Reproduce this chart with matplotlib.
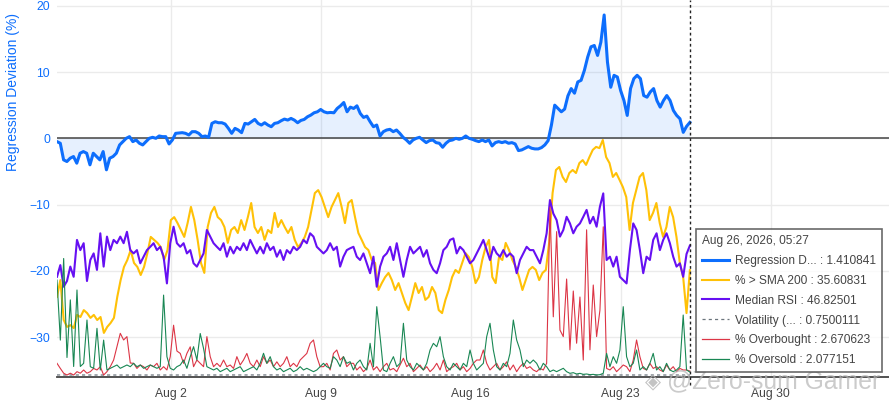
import matplotlib
matplotlib.use("Agg")
import matplotlib.pyplot as plt
import matplotlib.dates as mdates
import pandas as pd
from matplotlib.lines import Line2D

plt.rcParams['font.family'] = ['Liberation Sans', 'DejaVu Sans']

# time span of the series (first and last sample)
t_start = pd.Timestamp('2026-07-27 16:39')
t_end = pd.Timestamp('2026-08-26 05:27')

# Regression deviation (%), shown on the visible axis
reg_dev = [
    -0.5, -0.75, -3.25, -3.5, -3.0, -2.75, -3.75, -2.25, -2.0, -2.25,
    -4.0, -2.25, -2.75, -3.25, -2.0, -4.75, -3.0, -2.75, -2.25, -1.0,
    -0.5, 0.0, 0.25, -0.5, -0.25, -0.75, -1.0, -0.5, 0.0, 0.15,
    0.0, 0.35, 0.25, 0.25, -0.85, -0.25, 0.75, 0.8, 0.85, 0.75,
    0.5, 1.0, 1.0, 0.75, 0.25, 0.35, 0.15, 2.25, 2.5, 2.35,
    2.35, 2.15, 1.5, 0.75, 1.5, 1.25, 0.85, 2.25, 2.15, 2.5,
    2.85, 2.25, 2.0, 2.35, 2.0, 1.75, 2.25, 2.35, 2.65, 2.9,
    2.75, 3.0, 2.75, 2.35, 2.7,
    2.85, 3.25, 3.5, 3.85, 4.0, 4.35, 4.0, 3.85, 3.9, 3.85,
    4.5, 4.9, 5.4, 4.0, 4.7, 4.5, 4.9, 3.75, 3.15, 3.35,
    2.5, 1.75, 2.0, 0.35, 1.0, 1.25, 1.35, 1.0, 1.25, 0.75,
    0.15, -0.25, -0.75, -0.25, 0.0, 0.15, -0.25, -0.65, -0.35, -0.25,
    -0.65, -0.75, -1.35, -0.75, -0.35, -0.25, 0.0, -0.15, 0.0, 0.35,
    0.0, -0.15, -0.35, -0.5, -0.25, -0.5, -0.25, -1.15, -0.65, -0.5,
    -0.65, -0.5, -0.75, -0.65, -0.85, -1.85, -1.75, -1.5, -1.25, -1.5,
    -1.6, -1.6, -1.4, -1.0, -0.35, 2.0, 5.0, 4.5, 4.0, 4.4, 6.4,
    7.5, 6.8, 8.5, 8.75, 10.25, 12.25, 13.8, 14.0, 12.5, 14.5,
    18.6, 11.5, 7.7, 9.5, 9.25, 7.2, 5.7, 3.45, 7.5, 9.0,
    9.5, 9.0, 6.45, 6.2, 7.0, 7.5, 5.7, 4.7, 5.7, 6.45,
    5.7, 4.2, 3.45, 2.95, 0.9, 1.8, 2.4,
]

# % of stocks above SMA 200
pct_sma200 = [
    26.7, 32.3, 19.0, 16.7, 17.3, 16.3, 20.7, 20.0, 22.3, 21.3,
    19.7, 20.7, 19.0, 20.0, 14.7, 16.7, 18.0, 19.7,
    26.7, 32.3, 36.7, 39.0, 42.3, 38.0, 36.7, 34.0, 36.7, 41.3,
    46.7, 45.7, 44.7, 43.3, 39.0, 42.3, 52.3, 53.3, 51.3, 49.0,
    46.7, 51.3, 56.7, 52.3, 45.7, 38.0, 34.7, 50.0, 54.7, 56.7,
    53.3, 52.3, 50.0, 44.7, 49.0, 50.0, 48.0, 52.3, 49.0, 53.3,
    58.0, 50.0, 48.0, 50.0, 45.7, 49.0, 48.0, 54.7, 50.0, 52.3,
    50.0, 48.0, 50.0, 45.7, 43.3, 44.7, 46.7, 50.0, 55.7, 61.3,
    62.3, 60.0, 56.7, 53.3, 56.7, 59.0, 61.3, 56.7,
    51.3, 58.0, 59.0, 53.3, 48.0, 45.7, 43.3, 42.3, 39.0, 38.0,
    29.0, 31.3, 33.3, 34.7, 32.3, 29.0, 31.3, 28.0, 24.7, 22.3,
    26.7, 31.3, 28.0, 30.0, 25.7, 26.7, 30.0, 28.0, 22.3, 21.3,
    25.7, 29.0, 33.3, 35.7, 34.7, 38.0, 41.3, 40.0, 36.7, 31.3,
    33.3, 39.0, 43.3, 45.7, 33.3, 31.3, 40.0, 39.0, 44.7, 42.3,
    39.0, 36.7, 33.3, 29.0, 32.3, 35.7, 36.7,
    35.7, 32.3, 34.7, 35.7, 45.0, 61.3, 69.0, 70.0, 66.7, 65.0,
    68.0, 69.0, 68.0, 71.3, 72.3, 70.7, 73.3, 75.7, 76.7, 76.3,
    79.0, 73.3, 71.3, 66.7, 68.0, 65.7, 63.3, 60.0, 49.0, 58.0,
    62.3, 66.7, 68.0, 62.3, 52.3, 54.7, 58.0, 51.3, 46.7, 50.0,
    56.7, 53.3, 46.7, 38.0, 33.3, 21.3, 35.6,
]

# Median RSI
median_rsi = [
    36.4, 40.3, 33.1, 35.0, 39.8, 36.4, 48.7, 45.3, 47.6, 35.0,
    42.0, 44.2, 38.7, 50.9, 39.8, 49.8, 45.3, 48.7, 47.6, 49.8,
    47.6, 51.4, 45.3, 44.2, 45.3, 40.9, 43.1, 45.3, 46.4, 47.6,
    45.3, 46.4, 43.1, 34.2, 47.6, 53.1, 47.6, 46.4, 47.6, 44.2,
    45.3, 40.9, 39.8, 42.0, 44.2, 52.0, 49.8, 47.6, 46.4, 45.3,
    47.6, 43.1, 46.4, 44.2, 46.4, 45.3, 47.6, 45.3, 48.7, 46.4,
    44.2, 46.4, 44.2, 47.6, 45.3, 46.4, 43.1, 45.3, 42.0, 45.3,
    44.2, 46.4, 45.3, 46.4, 48.7, 47.6, 50.9, 49.8, 46.4, 45.3,
    44.2, 45.3, 47.6, 45.3, 46.4, 39.8, 43.1, 45.3, 45.9,
    46.4, 43.1, 42.0, 44.2, 40.9, 37.6, 43.1, 33.1, 39.8, 43.1,
    44.2, 46.4, 42.0, 47.6, 42.0, 36.4, 42.0, 46.4, 44.2, 45.3,
    46.4, 43.1, 45.3, 40.9, 38.7, 37.6, 40.9, 45.3, 46.4, 48.7,
    49.2, 44.2, 46.4, 45.3, 43.1, 40.9, 42.0, 44.2, 46.4, 48.7,
    45.3, 42.0, 46.4, 44.2, 43.1, 45.3, 43.1, 44.2, 43.1, 37.6,
    42.0, 44.2, 46.4, 45.3,
    45.3, 43.1, 40.9, 45.3, 50.9, 62.0, 57.5, 55.3, 49.8, 52.0,
    56.4, 54.2, 50.9, 53.1, 54.2, 56.4, 58.7, 54.2, 56.4, 53.1,
    59.8, 64.2, 42.0, 43.1, 39.8, 43.1, 36.4, 35.3, 34.2, 45.3,
    54.2, 52.0, 45.3, 37.6, 43.1, 42.0, 48.7, 50.9, 45.3, 48.7,
    50.9, 47.6, 43.1, 39.8, 40.9, 36.4, 44.0, 46.8,
]

# Volatility
volatility = [0.76, 0.74, 0.75, 0.77, 0.73, 0.75, 0.76, 0.74, 0.75, 0.75]

# % overbought
pct_overbought = [
    3.95, 3.1, 2.3, 2.0, 2.3, 2.0, 2.56, 2.3, 2.84, 2.3,
    2.56, 3.1, 2.84, 3.39, 2.0, 2.56, 3.39, 4.5, 6.7, 8.95,
    7.84, 8.4, 4.0, 3.95, 3.1, 3.67, 3.39, 2.84, 3.67, 3.39,
    3.95, 2.84, 3.39, 2.84, 5.06, 10.3, 6.0, 5.6, 3.95, 5.6,
    6.7, 3.39, 4.5, 3.95, 3.39, 8.4, 5.06, 3.39, 3.95, 3.39,
    4.5, 3.39, 3.67, 3.1, 5.06, 3.67, 4.5, 5.6, 3.95, 3.39,
    4.5, 3.39, 5.06, 3.95, 4.5, 3.39, 4.2, 3.39, 3.95, 5.06,
    3.39, 3.95, 3.39, 4.5, 5.06, 5.6, 7.28, 7.84, 5.06, 3.39,
    3.39, 3.95, 2.84, 5.6, 6.17, 4.5, 5.06, 3.39, 3.95,
    3.95, 2.84, 3.39, 2.56, 3.1, 4.5, 2.84, 3.39, 2.56, 3.39,
    3.95, 2.84, 3.1, 2.56, 3.67, 4.8, 3.39, 3.95, 2.56, 3.1,
    3.67, 2.84, 3.39, 2.56, 3.1, 3.95, 2.84, 4.5, 2.56, 3.1,
    3.39, 3.95, 2.84, 3.39, 2.56, 3.1, 3.95, 4.5, 4.5, 6.17,
    3.95, 2.84, 3.39, 3.95, 2.84, 3.39, 4.2, 2.84, 3.67, 2.56,
    3.39, 3.95, 3.1, 3.39,
    2.84, 2.56, 3.1, 2.84, 3.95, 30.0, 11.7, 25.9, 9.5, 8.4,
    18.0, 6.2, 16.0, 7.3, 15.0, 4.5, 26.2, 6.2, 17.0, 8.4,
    12.8, 26.7, 3.1, 2.84, 3.39, 2.56, 3.1, 3.67, 3.39, 2.56,
    4.5, 7.84, 5.06, 3.1, 2.84, 3.95, 3.1, 3.39, 2.84, 2.56,
    3.67, 2.84, 3.39, 2.56, 3.1, 2.84, 2.84, 2.67,
]

# % oversold
pct_oversold = [
    17.4, 7.4, 21.0, 4.5, 14.1, 3.0, 15.75, 3.0, 3.53, 10.75,
    2.97, 2.7, 9.36, 2.42, 7.4, 2.42, 2.7, 2.97, 3.25, 2.7,
    2.97, 3.25, 2.97, 3.53, 2.97, 3.25, 2.7, 2.97, 3.25, 2.97,
    2.7, 2.97, 14.9, 4.64, 2.7, 2.42, 2.97, 3.25, 4.08, 2.7,
    4.64, 6.3, 4.08, 8.5, 6.0, 2.97, 2.7, 2.42, 2.7, 2.14,
    2.42, 2.7, 2.14, 2.42, 2.7, 2.97, 2.14, 2.42, 2.7, 2.97,
    2.42, 3.53, 5.2, 3.53, 4.64, 2.97, 2.42, 2.7, 2.14, 2.42,
    2.7, 2.14, 2.42, 2.97, 2.42, 2.7, 2.42, 2.14, 2.42, 2.97,
    3.53, 2.97, 2.7, 4.64, 4.08, 2.97, 4.64, 3.53, 3.8,
    2.42, 3.53, 4.08, 2.97, 2.42, 6.86, 2.97, 12.97, 7.97, 2.42,
    2.14, 3.53, 4.64, 2.97, 3.53, 10.2, 4.08, 2.97, 2.42, 3.53,
    2.97, 2.42, 3.53, 5.75, 6.86, 6.3, 7.97, 4.64, 2.97, 2.42,
    3.53, 2.97, 2.42, 3.53, 2.97, 5.75, 3.53, 2.42, 2.97, 3.53,
    7.97, 10.2, 5.75, 2.97, 2.42, 3.53, 2.97, 5.19, 10.75, 7.42,
    5.75, 2.97, 4.08, 3.53,
    4.08, 3.53, 2.42, 3.53, 2.97, 2.14, 2.42, 2.14, 2.42, 2.7,
    2.14, 1.86, 1.97, 1.75, 1.86, 1.69, 1.75, 1.64, 1.69, 1.58,
    1.64, 1.86, 5.19, 2.97, 4.64, 3.53, 5.75, 12.97, 4.64, 2.97,
    3.53, 5.75, 2.42, 2.97, 2.42, 3.53, 5.19, 2.42, 2.97, 2.14,
    3.53, 2.42, 2.14, 2.42, 2.97, 11.58, 2.42, 2.08,
]

hover_title = 'Aug 26, 2026, 05:27'
hover_labels = [
    'Regression D... : 1.410841',
    '% > SMA 200 : 35.60831',
    'Median RSI : 46.82501',
    'Volatility (... : 0.7500111',
    '% Overbought : 2.670623',
    '% Oversold : 2.077151',
]

BLUE = '#0d6efd'
YELLOW = '#ffc107'
PURPLE = '#6610f2'
GRAY = '#6c757d'
RED = '#dc3545'
GREEN = '#198754'


def times(vals):
    return pd.date_range(t_start, t_end, periods=len(vals))


W, H = 889, 405
fig = plt.figure(figsize=(W / 100, H / 100), dpi=100)
ax = fig.add_axes([57 / W, (H - 377) / H, (W - 57) / W, 377 / H])

# visible axis: regression deviation
tb = times(reg_dev)
ax.fill_between(tb, reg_dev, 0, color=BLUE, alpha=0.1, lw=0, zorder=2)
ax.plot(tb, reg_dev, color=BLUE, lw=2.2, zorder=3)
ax.axhline(0, color='#444444', lw=1.1, zorder=2.5)
ax.set_ylim(-36.0, 20.86)
ax.set_xlim(pd.Timestamp('2026-07-27 16:39'), pd.Timestamp('2026-09-04 12:29'))
ax.set_yticks([-30, -20, -10, 0, 10, 20])
ax.grid(True, color='#ebebeb', lw=1)
ax.set_axisbelow(True)
for s in ['top', 'right', 'left']:
    ax.spines[s].set_visible(False)
ax.spines['bottom'].set_color('#444444')
ax.spines['bottom'].set_linewidth(1.3)
ax.xaxis.set_major_locator(mdates.WeekdayLocator(byweekday=mdates.SU))
ax.xaxis.set_major_formatter(mdates.DateFormatter('%b %-d'))
ax.tick_params(axis='x', length=0, pad=8, labelsize=8.7, labelcolor='#444444')
ax.tick_params(axis='y', length=0, pad=5, labelsize=8.7, labelcolor=BLUE)
ax.set_ylabel('Regression Deviation (%)', color=BLUE, fontsize=10)
ax.yaxis.set_label_coords(-0.0445, 0.755)

# hidden overlay axes for the other series
overlays = [
    (pct_sma200, YELLOW, 1.5, '-', (0, 125.67)),
    (median_rsi, PURPLE, 1.5, '-', (3, 128.67)),
    (volatility, GRAY, 0.9, (0, (2.5, 2.5)), (0, 141.4)),
    (pct_overbought, RED, 0.8, '-', (1.67, 64.5)),
    (pct_oversold, GREEN, 0.8, '-', (1.25, 64.08)),
]
last = ax
for vals, col, lw, ls, lim in overlays:
    axt = ax.twinx()
    axt.plot(times(vals), vals, color=col, lw=lw, ls=ls)
    axt.set_ylim(*lim)
    axt.set_xlim(ax.get_xlim())
    axt.axis('off')
    last = axt

# hover spike line
last.axvline(t_end, color='#222222', lw=1, ls=(0, (2, 2)), ymin=-0.02, ymax=1, clip_on=False)

# hover box
handles = [
    Line2D([], [], color=BLUE, lw=2.2),
    Line2D([], [], color=YELLOW, lw=1.5),
    Line2D([], [], color=PURPLE, lw=1.5),
    Line2D([], [], color=GRAY, lw=0.9, ls=(0, (2.5, 2.5))),
    Line2D([], [], color=RED, lw=0.9),
    Line2D([], [], color=GREEN, lw=0.9),
]
leg = fig.legend(handles, hover_labels, loc='upper left',
                 bbox_to_anchor=(696 / W, 1 - 229 / H), title=hover_title,
                 alignment='left', fontsize=8.6, title_fontsize=8.6,
                 frameon=True, fancybox=False, edgecolor='#444444',
                 borderpad=0.5, labelspacing=0.66, handlelength=2.3,
                 handletextpad=0.5, borderaxespad=0)
leg.get_frame().set_linewidth(1.2)
for t in leg.get_texts():
    t.set_color('#444444')
leg.get_title().set_color('#444444')

# watermark
fig.text(653 / W, 1 - 382 / H, '\u25c8', fontsize=15, color='#b5b5b5',
         alpha=0.8, ha='center', va='center', family='DejaVu Sans')
fig.text(667 / W, 1 - 381 / H, '@Zero-sum Gamer', fontsize=17.8,
         color='#b5b5b5', alpha=0.7, ha='left', va='center')

fig.savefig('out.png', dpi=100)
